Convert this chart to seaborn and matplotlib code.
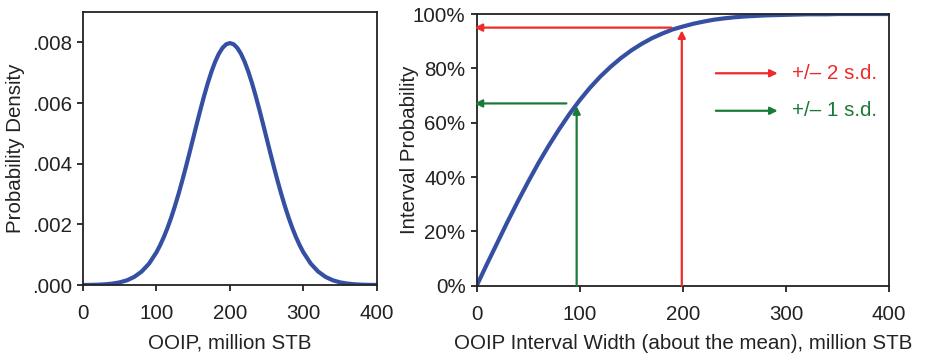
#!/usr/bin/env python3

import numpy as np
import pandas as pd
import matplotlib
matplotlib.use("Agg")
import matplotlib.pyplot as plt
from matplotlib.ticker import FuncFormatter
import seaborn as sns

# OOIP values (million STB) and probability density
ooip = [0, 10, 20, 30, 40, 50, 60, 70, 80, 90, 100, 105, 110, 115, 120, 125,
        130, 135, 140, 145, 150, 155, 160, 165, 170, 175, 180, 185, 190, 195,
        200, 205, 210, 215, 220, 225, 230, 235, 240, 245, 250, 255, 260, 265,
        270, 275, 280, 285, 290, 295, 300, 310, 320, 330, 340, 350, 360, 370,
        380, 390, 400]
density = [0.0000027, 0.0000058, 0.000012, 0.000025, 0.000048, 0.000089,
           0.000158, 0.000272, 0.000448, 0.000709, 0.001080, 0.001312,
           0.001579, 0.001881, 0.002218, 0.002591, 0.002995, 0.003428,
           0.003884, 0.004357, 0.004839, 0.005322, 0.005794, 0.006245,
           0.006665, 0.007041, 0.007366, 0.007628, 0.007821, 0.007939,
           0.007979, 0.007939, 0.007821, 0.007628, 0.007366, 0.007041,
           0.006665, 0.006245, 0.005794, 0.005322, 0.004839, 0.004357,
           0.003884, 0.003428, 0.002995, 0.002591, 0.002218, 0.001881,
           0.001579, 0.001312, 0.001080, 0.000709, 0.000448, 0.000272,
           0.000158, 0.000089, 0.000048, 0.000025, 0.000012, 0.0000058,
           0.0000027]

# interval width about the mean and interval probability, right panel
width = [0, 10, 20, 30, 40, 50, 60, 70, 80, 90, 100, 110, 120, 130, 140, 150,
         160, 170, 180, 190, 200, 210, 220, 230, 240, 250, 260, 270, 280, 290,
         300, 310, 320, 330, 340, 350, 360, 370, 380, 390, 400]
prob = [0.0, 0.080, 0.158, 0.236, 0.311, 0.383, 0.452, 0.516, 0.576, 0.632,
        0.683, 0.729, 0.770, 0.806, 0.838, 0.866, 0.890, 0.911, 0.928, 0.943,
        0.954, 0.964, 0.972, 0.979, 0.984, 0.988, 0.991, 0.993, 0.995, 0.996,
        0.997, 0.998, 0.999, 0.999, 0.999, 1.0, 1.0, 1.0, 1.0, 1.0, 1.0]

# +/- 1 and 2 s.d. markers: interval width, probability, labels
sd_labels = ["+/\u2013 2 s.d.", "+/\u2013 1 s.d."]
sd_width = [199, 97]
sd_prob = [0.95, 0.671]
sd_colors = ["#ee2a2a", "#1b7a3a"]

BLUE = "#3550a2"
AXCOL = "#222222"
FS = 14.8

sns.set_style("ticks")
plt.rcParams["font.family"] = ["Liberation Sans", "DejaVu Sans"]
plt.rcParams["font.size"] = FS

fig = plt.figure(figsize=(9.27, 3.55), dpi=100)
ax1 = fig.add_axes([0.0895, 0.197, 0.317, 0.769])
ax2 = fig.add_axes([0.5142, 0.195, 0.4448, 0.7655])

df_pdf = pd.DataFrame({"ooip": ooip, "density": density})
df_int = pd.DataFrame({"width": width, "prob": prob})

sns.lineplot(data=df_pdf, x="ooip", y="density", ax=ax1, color=BLUE, lw=3.0)
sns.lineplot(data=df_int, x="width", y="prob", ax=ax2, color=BLUE, lw=3.0)

ax1.set_xlim(0, 400)
ax1.set_ylim(0, 0.009)
ax1.set_xticks([0, 100, 200, 300, 400])
ax1.set_yticks([0, 0.002, 0.004, 0.006, 0.008])
ax1.yaxis.set_major_formatter(FuncFormatter(lambda v, p: f"{v:.3f}".lstrip("0")))
ax1.set_xlabel("OOIP, million STB", color=AXCOL)
ax1.set_ylabel("Probability Density", color=AXCOL)
ax1.yaxis.set_label_coords(-0.196, 0.5)
ax1.xaxis.set_label_coords(0.5, -0.178)

ax2.set_xlim(0, 400)
ax2.set_ylim(0, 1.0)
ax2.set_xticks([0, 100, 200, 300, 400])
ax2.set_yticks([0, 0.2, 0.4, 0.6, 0.8, 1.0])
ax2.yaxis.set_major_formatter(FuncFormatter(lambda v, p: f"{v * 100:.0f}%"))
ax2.set_xlabel("OOIP Interval Width (about the mean), million STB", color=AXCOL)
ax2.set_ylabel("Interval Probability", color=AXCOL)
ax2.yaxis.set_label_coords(-0.141, 0.5)
ax2.xaxis.set_label_coords(0.5, -0.178)

for ax in (ax1, ax2):
    for sp in ax.spines.values():
        sp.set_visible(True)
        sp.set_color(AXCOL)
        sp.set_linewidth(1.3)
    ax.tick_params(direction="out", length=4.5, width=1.3, color=AXCOL,
                   labelcolor=AXCOL, labelsize=FS)
    ax.tick_params(axis="x", pad=9)
    ax.tick_params(axis="y", pad=3.5)

# arrows
for w, p, c in zip(sd_width, sd_prob, sd_colors):
    head = dict(arrowstyle="-|>", color=c, lw=1.6, mutation_scale=11,
                shrinkA=0, shrinkB=0)
    # vertical arrow from x axis up to the curve
    ax2.annotate("", xy=(w, p - 0.01), xytext=(w, 0), arrowprops=head)
    # horizontal arrow from the curve to the y axis
    ax2.annotate("", xy=(-2, p), xytext=(w - 10, p), arrowprops=head,
                 annotation_clip=False)

# legend-style arrows with labels
leg_y = [0.782, 0.644]
for lab, c, y in zip(sd_labels, sd_colors, leg_y):
    ax2.annotate("", xy=(292, y), xytext=(232, y),
                 arrowprops=dict(arrowstyle="-|>", color=c, lw=1.6,
                                 mutation_scale=11, shrinkA=0, shrinkB=0))
    ax2.text(306, y, lab, color=c, fontsize=FS, va="center", ha="left")

fig.savefig("out.png", dpi=100)
